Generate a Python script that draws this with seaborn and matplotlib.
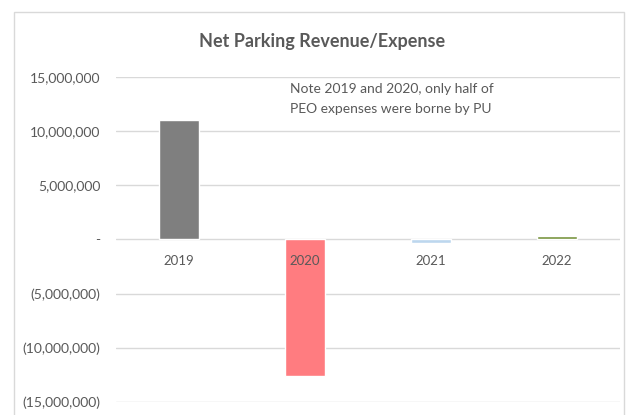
import matplotlib
matplotlib.use('Agg')
import matplotlib.pyplot as plt
import matplotlib.patches as mpatches
import pandas as pd
import seaborn as sns

# data
years = ['2019', '2020', '2021', '2022']
net_values = [11000000, -12600000, -300000, 300000]
bar_colors = ['#7f7f7f', '#ff7c80', '#bdd7ee', '#77933c']
y_ticks = [15000000, 10000000, 5000000, 0, -5000000, -10000000, -15000000]
title = 'Net Parking Revenue/Expense'
note = 'Note 2019 and 2020, only half of\nPEO expenses were borne by PU'


def fmt_tick(v):
    """Excel accounting style labels"""
    if v == 0:
        return '-'
    if v < 0:
        return f'({abs(v):,.0f})'
    return f'{v:,.0f}'


def main():
    sns.set_style('white')
    plt.rcParams['font.family'] = ['Lato', 'DejaVu Sans']
    text_color = '#595959'

    df = pd.DataFrame({'year': years, 'value': net_values})

    fig = plt.figure(figsize=(6.37, 4.15), dpi=100)
    ax = fig.add_axes([0.182, 0.031, 0.791, 0.784])

    # chart border like the Excel chart area
    fig.patches.append(mpatches.Rectangle((14 / 637, -0.05), 610 / 637, 1.05 - 12 / 415,
                                          transform=fig.transFigure, fill=False,
                                          edgecolor='#d9d9d9', lw=1))

    sns.barplot(data=df, x='year', y='value', hue='year', palette=bar_colors,
                order=years, hue_order=years, width=0.32, saturation=1,
                legend=False, ax=ax, zorder=3)

    ax.set_ylim(-15000000, 15000000)
    ax.set_xlim(-0.5, 3.5)
    ax.set_yticks(y_ticks)
    ax.set_yticklabels([fmt_tick(v) for v in y_ticks], fontsize=10, color=text_color)
    ax.tick_params(axis='y', length=0, pad=11)
    ax.grid(axis='y', color='#d9d9d9', lw=1, zorder=0)
    ax.set_axisbelow(True)
    for s in ax.spines.values():
        s.set_visible(False)

    # category labels sit just under the zero line
    ax.set_xticks([])
    ax.set_xlabel('')
    ax.set_ylabel('')
    for i, yr in enumerate(years):
        ax.annotate(yr, xy=(i, 0), xytext=(0, -11), textcoords='offset points',
                    ha='center', va='top', fontsize=9.5, color=text_color, zorder=4)

    fig.text(0.505, 0.9, title, ha='center', va='center', fontsize=13,
             fontweight='bold', color=text_color)
    fig.text(290 / 637, 1 - 99 / 415, note, ha='left', va='center', fontsize=10,
             color=text_color, linespacing=1.85)

    fig.savefig('out.png', dpi=100)
    plt.close(fig)


if __name__ == '__main__':
    main()
